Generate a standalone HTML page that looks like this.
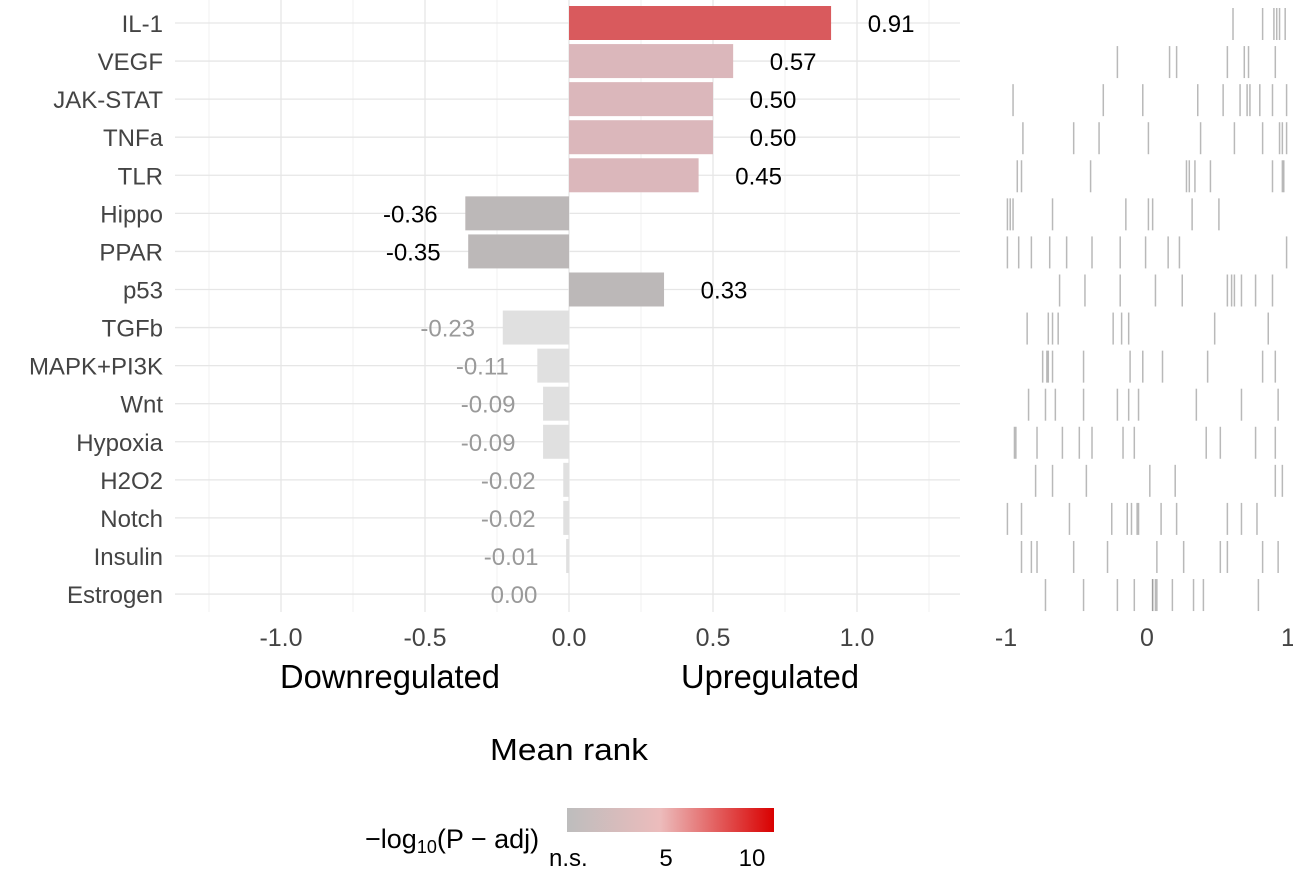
<!DOCTYPE html>
<html><head><meta charset="utf-8"><style>
body{margin:0;background:#fff;}
svg{display:block;font-family:"Liberation Sans",Arial,sans-serif;}
</style></head><body>
<svg id="chart" width="1293" height="874" viewBox="0 0 1293 874">
<defs><linearGradient id="cb" x1="0" x2="1" y1="0" y2="0">
<stop offset="0" stop-color="#bdbdbd"/><stop offset="0.45" stop-color="#ecbcbc"/><stop offset="1" stop-color="#d90000"/></linearGradient></defs>
<g id="grid"></g>
<g id="bars"></g>
<g id="barcodes"></g>
<g id="axes"></g>
<text x="390" y="688" font-size="33" text-anchor="middle" textLength="220" lengthAdjust="spacingAndGlyphs" fill="#000">Downregulated</text>
<text x="770" y="688" font-size="33" text-anchor="middle" textLength="178" lengthAdjust="spacingAndGlyphs" fill="#000">Upregulated</text>
<text x="569" y="760" font-size="31" text-anchor="middle" textLength="158" lengthAdjust="spacingAndGlyphs" fill="#000">Mean rank</text>
<g>
<rect x="567" y="808" width="207" height="24" fill="url(#cb)"/>
<text x="365" y="848" font-size="27" fill="#000">−log<tspan font-size="18" dy="5">10</tspan><tspan dy="-5">(P − adj)</tspan></text>
<text x="549" y="866" font-size="24" fill="#000">n.s.</text>
<text x="666" y="866" font-size="24" text-anchor="middle" fill="#000">5</text>
<text x="752" y="866" font-size="24" text-anchor="middle" fill="#000">10</text>
</g>
</svg>
<script>
const categories=["IL-1","VEGF","JAK-STAT","TNFa","TLR","Hippo","PPAR","p53","TGFb","MAPK+PI3K","Wnt","Hypoxia","H2O2","Notch","Insulin","Estrogen"];
const meanRank=[0.91,0.57,0.50,0.50,0.45,-0.36,-0.35,0.33,-0.23,-0.11,-0.09,-0.09,-0.02,-0.02,-0.01,0.00];
const significance=[9,3,3,3,3,1.5,1.5,1,0,0,0,0,0,0,0,0];
const xTicks=[-1.0,-0.5,0.0,0.5,1.0];
const barcodeTicks=[-1,0,1];
const barcodes=[
[.61,.82,.90,.92,.94,.98],
[-.21,.16,.21,.57,.69,.72,.91],
[-.95,-.31,-.03,.36,.54,.66,.71,.73,.80,.89,.99],
[-.88,-.52,-.34,.01,.38,.62,.82,.94,.96,.99],
[-.92,-.89,-.40,.28,.30,.34,.45,.89,.96,.97],
[-.99,-.97,-.95,-.67,-.15,.01,.04,.32,.51],
[-.99,-.91,-.82,-.69,-.57,-.39,-.19,-.01,.15,.23,.99],
[-.62,-.44,-.19,.06,.25,.57,.60,.62,.67,.77,.89],
[-.85,-.70,-.67,-.63,-.24,-.18,-.13,.48,.86],
[-.74,-.71,-.70,-.67,-.45,-.12,-.03,.11,.43,.82,.91],
[-.84,-.72,-.65,-.45,-.21,-.13,-.06,.35,.67,.93],
[-.94,-.93,-.78,-.60,-.48,-.39,-.17,-.09,.42,.52,.77,.91],
[-.79,-.67,-.43,.02,.20,.91,.96],
[-.99,-.89,-.55,-.25,-.14,-.11,-.07,-.06,.10,.21,.57,.67,.78],
[-.89,-.82,-.78,-.52,-.28,.07,.26,.52,.57,.82,.93],
[-.72,-.45,-.21,-.09,.04,.04,.06,.07,.18,.33,.40,.79]
];
const NS="http://www.w3.org/2000/svg";
const X=v=>569+v*288;
const Y=i=>23+i*38.07;
const BX=v=>1147+v*141;
function mk(tag,attrs,parent){const e=document.createElementNS(NS,tag);for(const k in attrs)e.setAttribute(k,attrs[k]);parent.appendChild(e);return e;}
function barColor(s){if(s>=8)return"#d95a5d";if(s>=3)return"#dbb7bb";if(s>=1)return"#bcb8b8";return"#e0e0e0";}
const grid=document.getElementById('grid'),bars=document.getElementById('bars'),bc=document.getElementById('barcodes'),axes=document.getElementById('axes');
[-1.25,-0.75,-0.25,0.25,0.75,1.25].forEach(v=>{const l=mk('line',{x1:X(v),x2:X(v),y1:0,y2:612,stroke:'#f2f2f2','stroke-width':1},grid);

});
xTicks.forEach(v=>{const l=mk('line',{x1:X(v),x2:X(v),y1:0,y2:612,stroke:'#e6e6e6','stroke-width':1.3},grid);


const t=mk('text',{x:X(v),y:646,'font-size':25,'text-anchor':'middle',fill:'#444'},axes);t.textContent=v.toFixed(1);

});
categories.forEach((c,i)=>{const y=Y(i);
const g=mk('line',{x1:175,x2:960,y1:y,y2:y,stroke:'#e6e6e6','stroke-width':1.3},grid);


const lab=mk('text',{x:163,y:y+9,'font-size':24,'text-anchor':'end',fill:'#444'},axes);lab.textContent=c;


const v=meanRank[i];
const r=mk('rect',{x:Math.min(X(0),X(v)),y:y-17,width:Math.abs(X(v)-X(0)),height:34,fill:barColor(significance[i])},bars);


const tx=v>0?X(v)+60:X(v)-55;
const vt=mk('text',{x:tx,y:y+9,'font-size':24,'text-anchor':'middle',fill:significance[i]>0?'#000':'#9a9a9a'},bars);vt.textContent=v.toFixed(2);


barcodes[i].forEach(b=>{const l=mk('line',{x1:BX(b),x2:BX(b),y1:y-15,y2:y+17,stroke:'#8a8a8a','stroke-width':1.5,'stroke-opacity':0.6},bc);

});
});
barcodeTicks.forEach(v=>{const t=mk('text',{x:BX(v),y:646,'font-size':25,'text-anchor':'middle',fill:'#444'},axes);t.textContent=String(v);

});
</script>
</body></html>
